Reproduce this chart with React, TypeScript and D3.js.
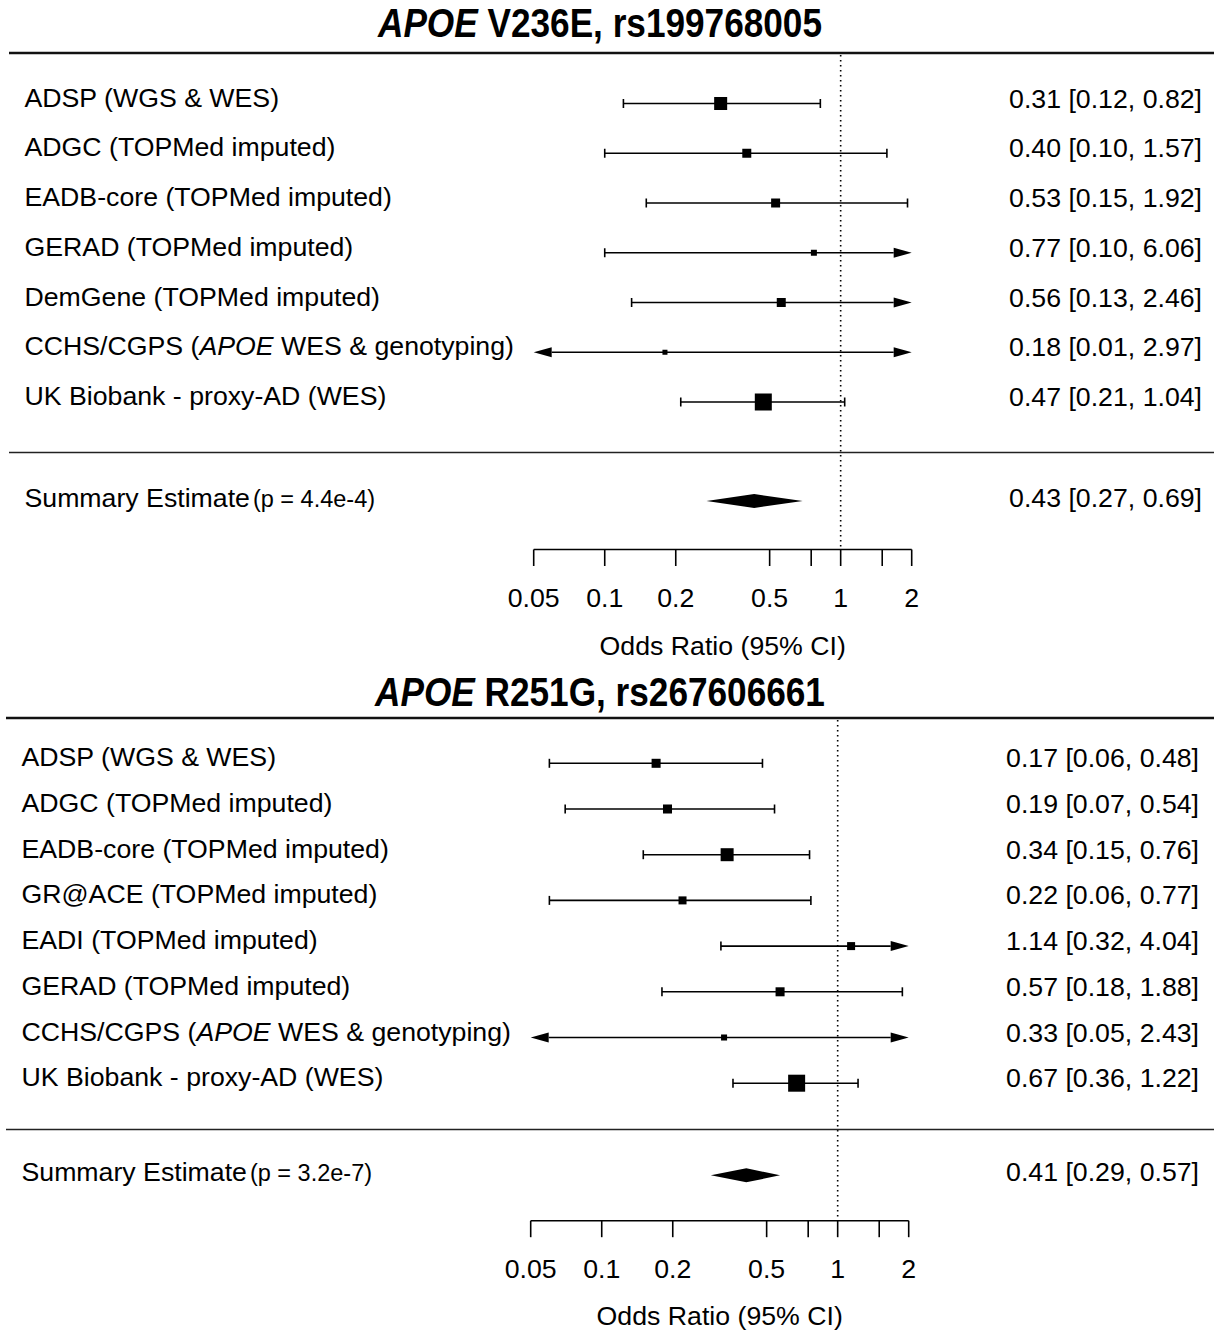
import React from "react";
import * as d3 from "d3";

// ---------- data ----------
const title1Italic = "APOE";
const title1Rest = " V236E, rs199768005";
const studies1 = [
  "ADSP (WGS & WES)",
  "ADGC (TOPMed imputed)",
  "EADB-core (TOPMed imputed)",
  "GERAD (TOPMed imputed)",
  "DemGene (TOPMed imputed)",
  "CCHS/CGPS (*APOE* WES & genotyping)",
  "UK Biobank - proxy-AD (WES)",
];
const or1 = [0.31, 0.4, 0.53, 0.77, 0.56, 0.18, 0.47];
const lo1 = [0.12, 0.1, 0.15, 0.1, 0.13, 0.01, 0.21];
const hi1 = [0.82, 1.57, 1.92, 6.06, 2.46, 2.97, 1.04];
const weight1 = [22.2, 10.6, 10.6, 4.7, 10.6, 3.3, 37.9];
const summary1 = [0.43, 0.27, 0.69];
const pval1 = "4.4e-4";

const title2Italic = "APOE";
const title2Rest = " R251G, rs267606661";
const studies2 = [
  "ADSP (WGS & WES)",
  "ADGC (TOPMed imputed)",
  "EADB-core (TOPMed imputed)",
  "GR@ACE (TOPMed imputed)",
  "EADI (TOPMed imputed)",
  "GERAD (TOPMed imputed)",
  "CCHS/CGPS (*APOE* WES & genotyping)",
  "UK Biobank - proxy-AD (WES)",
];
const or2 = [0.17, 0.19, 0.34, 0.22, 1.14, 0.57, 0.33, 0.67];
const lo2 = [0.06, 0.07, 0.15, 0.06, 0.32, 0.18, 0.05, 0.36];
const hi2 = [0.48, 0.54, 0.76, 0.77, 4.04, 1.88, 2.43, 1.22];
const weight2 = [9.4, 9.4, 19.5, 7.4, 7.4, 9.4, 4.2, 33.4];
const summary2 = [0.41, 0.29, 0.57];
const pval2 = "3.2e-7";

const xTicks = [0.05, 0.1, 0.2, 0.5, 0.75, 1, 1.5, 2];
const xTickLabels = ["0.05", "0.1", "0.2", "0.5", "", "1", "", "2"];
const xDomain = [0.05, 2];
const axisTitle = "Odds Ratio (95% CI)";

const FONT = "'Liberation Sans', Arial, Helvetica, sans-serif";

function fmt(v: number) {
  return v.toFixed(2);
}

function RichLabel({ text, x, y, size }: { text: string; x: number; y: number; size: number }) {
  const parts = text.split("*");
  return (
    <text x={x} y={y} fontSize={size} fontFamily={FONT} fill="#000">
      {parts.map((p, i) => (
        <tspan key={i} fontStyle={i % 2 === 1 ? "italic" : "normal"}>
          {p}
        </tspan>
      ))}
    </text>
  );
}

interface PanelProps {
  titleItalic: string;
  titleRest: string;
  studies: string[];
  est: number[];
  lo: number[];
  hi: number[];
  weight: number[];
  summary: number[];
  pval: string;
  L: {
    titleY: number;
    headerY: number;
    lineStartX: number;
    firstRowY: number;
    rowStep: number;
    sepY: number;
    summaryY: number;
    axisY: number;
    tickLabelY: number;
    axisTitleY: number;
    xRange: [number, number];
    labelX: number;
    valueX: number;
  };
}

function Panel({ titleItalic, titleRest, studies, est, lo, hi, weight, summary, pval, L }: PanelProps) {
  const x = d3.scaleLog().domain(xDomain).range(L.xRange);
  const size = d3.scaleSqrt().domain([0, d3.max(weight) as number]).range([0, 17]);
  const [xmin, xmax] = xDomain;
  const fs = 26.7;
  const arrowLen = 18;
  const arrowHalf = 5;
  const capHalf = 4.5;
  return (
    <g>
      <text
        transform={`translate(600,${L.titleY}) scale(0.88,1)`}
        textAnchor="middle"
        fontSize={40}
        fontWeight="bold"
        fontFamily={FONT}
        fill="#000"
      >
        <tspan fontStyle="italic">{titleItalic}</tspan>
        <tspan>{titleRest}</tspan>
      </text>
      <line x1={L.lineStartX} x2={1214} y1={L.headerY} y2={L.headerY} stroke="#111" strokeWidth={2.5} />
      <line x1={x(1)} x2={x(1)} y1={L.headerY + 2} y2={L.axisY} stroke="#000" strokeWidth={1.6} strokeDasharray="1.6,3.4" />
      {studies.map((s, i) => {
        const y = L.firstRowY + i * L.rowStep;
        const leftArrow = lo[i] <= xmin;
        const rightArrow = hi[i] >= xmax;
        const xl = x(Math.max(lo[i], xmin));
        const xr = x(Math.min(hi[i], xmax));
        const sq = size(weight[i]);
        return (
          <g key={i}>
            <RichLabel text={s} x={L.labelX} y={y + 3} size={fs} />
            <line x1={leftArrow ? xl + arrowLen : xl} x2={rightArrow ? xr - arrowLen : xr} y1={y} y2={y} stroke="#000" strokeWidth={1.6} />
            {leftArrow ? (
              <polygon points={`${xl},${y} ${xl + arrowLen},${y - arrowHalf} ${xl + arrowLen},${y + arrowHalf}`} fill="#000" />
            ) : (
              <line x1={xl} x2={xl} y1={y - capHalf} y2={y + capHalf} stroke="#000" strokeWidth={1.6} />
            )}
            {rightArrow ? (
              <polygon points={`${xr},${y} ${xr - arrowLen},${y - arrowHalf} ${xr - arrowLen},${y + arrowHalf}`} fill="#000" />
            ) : (
              <line x1={xr} x2={xr} y1={y - capHalf} y2={y + capHalf} stroke="#000" strokeWidth={1.6} />
            )}
            <rect x={x(est[i]) - sq / 2} y={y - sq / 2} width={sq} height={sq} fill="#000" />
            <text x={L.valueX} y={y + 4} textAnchor="end" fontSize={fs} fontFamily={FONT} fill="#000">
              {`${fmt(est[i])} [${fmt(lo[i])}, ${fmt(hi[i])}]`}
            </text>
          </g>
        );
      })}
      <line x1={L.lineStartX} x2={1214} y1={L.sepY} y2={L.sepY} stroke="#222" strokeWidth={1.6} />
      <text x={L.labelX} y={L.summaryY + 6} fontSize={fs} fontFamily={FONT} fill="#000">
        Summary Estimate
        <tspan fontSize={23.5} dx={3}>{`(p = ${pval})`}</tspan>
      </text>
      <polygon
        points={`${x(summary[1])},${L.summaryY} ${x(summary[0])},${L.summaryY - 7} ${x(summary[2])},${L.summaryY} ${x(summary[0])},${L.summaryY + 7}`}
        fill="#000"
      />
      <text x={L.valueX} y={L.summaryY + 6} textAnchor="end" fontSize={fs} fontFamily={FONT} fill="#000">
        {`${fmt(summary[0])} [${fmt(summary[1])}, ${fmt(summary[2])}]`}
      </text>
      <line x1={x(xmin)} x2={x(xmax)} y1={L.axisY} y2={L.axisY} stroke="#000" strokeWidth={1.6} />
      {xTicks.map((t, i) => (
        <g key={t}>
          <line x1={x(t)} x2={x(t)} y1={L.axisY} y2={L.axisY + 16.5} stroke="#000" strokeWidth={1.6} />
          {xTickLabels[i] && (
            <text x={x(t)} y={L.tickLabelY} textAnchor="middle" fontSize={fs} fontFamily={FONT} fill="#000">
              {xTickLabels[i]}
            </text>
          )}
        </g>
      ))}
      <text x={(L.xRange[0] + L.xRange[1]) / 2} y={L.axisTitleY} textAnchor="middle" fontSize={fs} fontFamily={FONT} fill="#000">
        {axisTitle}
      </text>
    </g>
  );
}

export default function App() {
  return (
    <svg width={1214} height={1334} style={{ position: "absolute", left: 0, top: 0, background: "#fff" }}>
      <rect width={1214} height={1334} fill="#fff" />
      <Panel
        titleItalic={title1Italic}
        titleRest={title1Rest}
        studies={studies1}
        est={or1}
        lo={lo1}
        hi={hi1}
        weight={weight1}
        summary={summary1}
        pval={pval1}
        L={{
          titleY: 37,
          headerY: 53,
          lineStartX: 9,
          firstRowY: 103.5,
          rowStep: 49.75,
          sepY: 452.5,
          summaryY: 501,
          axisY: 549.5,
          tickLabelY: 607,
          axisTitleY: 655,
          xRange: [533.7, 911.7],
          labelX: 24.5,
          valueX: 1202,
        }}
      />
      <Panel
        titleItalic={title2Italic}
        titleRest={title2Rest}
        studies={studies2}
        est={or2}
        lo={lo2}
        hi={hi2}
        weight={weight2}
        summary={summary2}
        pval={pval2}
        L={{
          titleY: 706,
          headerY: 718,
          lineStartX: 6,
          firstRowY: 763.3,
          rowStep: 45.7,
          sepY: 1129.5,
          summaryY: 1175.3,
          axisY: 1220.7,
          tickLabelY: 1278,
          axisTitleY: 1325,
          xRange: [530.7, 908.7],
          labelX: 21.5,
          valueX: 1199,
        }}
      />
    </svg>
  );
}
